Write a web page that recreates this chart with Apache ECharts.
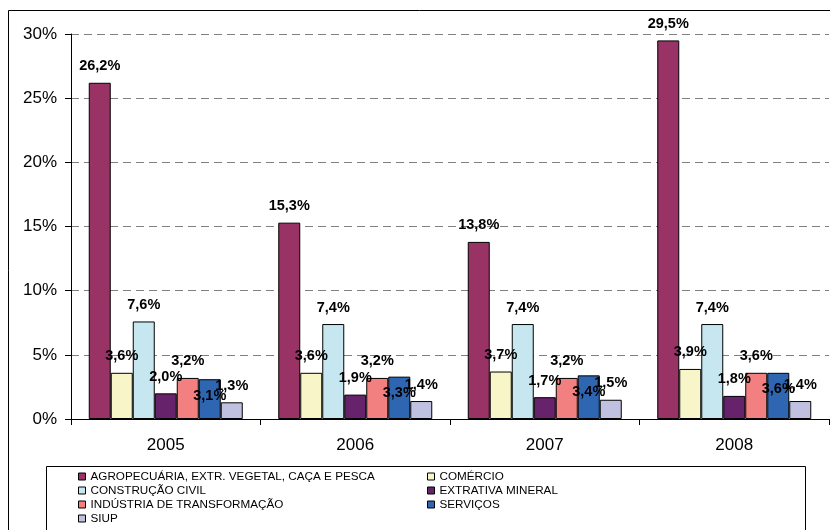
<!DOCTYPE html>
<html>
<head>
<meta charset="utf-8">
<script src="https://cdn.jsdelivr.net/npm/echarts@6/dist/echarts.min.js"></script>
<style>
    html, body { margin: 0; padding: 0; background: #fff; }
    #chart { width: 830px; height: 530px; }
</style>
</head>
<body>
<div id="chart"></div>
<script>
// categorias e valores (%)
var years = ['2005', '2006', '2007', '2008'];
var yTicks = [0, 5, 10, 15, 20, 25, 30];

var agro       = [26.2, 15.3, 13.8, 29.5];
var comercio   = [3.6, 3.6, 3.7, 3.9];
var construcao = [7.6, 7.4, 7.4, 7.4];
var extrativa  = [2.0, 1.9, 1.7, 1.8];
var industria  = [3.2, 3.2, 3.2, 3.6];
var servicos   = [3.1, 3.3, 3.4, 3.6];
var siup       = [1.3, 1.4, 1.5, 1.4];

var seriesNames = [
    'AGROPECUÁRIA, EXTR. VEGETAL, CAÇA E PESCA',
    'COMÉRCIO',
    'CONSTRUÇÃO CIVIL',
    'EXTRATIVA MINERAL',
    'INDÚSTRIA DE TRANSFORMAÇÃO',
    'SERVIÇOS',
    'SIUP'
];
var seriesData = [agro, comercio, construcao, extrativa, industria, servicos, siup];
var seriesColor = ['#993366', '#f8f6c8', '#c6e7f0', '#66226a', '#f38080', '#2e66b2', '#c0c0e0'];

var FONT = '"Liberation Sans", Arial, sans-serif';

var fmt = function(v) {
    return v.toFixed(1).replace('.', ',') + '%';
};

var chart = echarts.init(document.getElementById('chart'));

// rótulo de SERVIÇOS fica dentro da barra, os demais acima
var series = seriesNames.map(function(name, i) {
    var inside = name === 'SERVIÇOS';
    return {
        name: name,
        type: 'bar',
        barWidth: 22,
        barGap: '0%',
        data: seriesData[i],
        itemStyle: {
            color: seriesColor[i],
            borderColor: '#000',
            borderWidth: 1
        },
        label: {
            show: true,
            position: inside ? 'insideTop' : 'top',
            distance: 9,
            color: '#000',
            fontFamily: FONT,
            fontSize: 14.5,
            fontWeight: 'bold',
            formatter: function(p) { return fmt(p.value); }
        }
    };
});

var legendCommon = {
    orient: 'vertical',
    top: 470,
    padding: 0,
    itemGap: 1,
    itemWidth: 7,
    itemHeight: 7,
    icon: 'rect',
    selectedMode: false,
    itemStyle: { borderColor: '#000', borderWidth: 1 },
    textStyle: { fontFamily: FONT, fontSize: 11.7, lineHeight: 13, color: '#000' }
};

chart.setOption({
    backgroundColor: '#fff',
    animation: false,
    grid: { left: 71, right: 1, top: 34, bottom: 111 },
    legend: [
        Object.assign({}, legendCommon, {
            left: 78,
            data: [seriesNames[0], seriesNames[2], seriesNames[4], seriesNames[6]]
        }),
        Object.assign({}, legendCommon, {
            left: 427,
            data: [seriesNames[1], seriesNames[3], seriesNames[5]]
        })
    ],
    graphic: [
        {
            type: 'rect', z: -1, silent: true,
            shape: { x: 8.5, y: 10.5, width: 840, height: 540 },
            style: { fill: 'none', stroke: '#000', lineWidth: 1 }
        },
        {
            type: 'rect', z: -1, silent: true,
            shape: { x: 46.5, y: 466.5, width: 759, height: 80 },
            style: { fill: 'none', stroke: '#000', lineWidth: 1 }
        }
    ],
    xAxis: {
        type: 'category',
        data: years,
        axisLine: { lineStyle: { color: '#000', width: 1 } },
        axisTick: { show: true, length: 6, interval: 0, lineStyle: { color: '#000' } },
        axisLabel: { color: '#000', fontFamily: FONT, fontSize: 17, margin: 18 },
        splitLine: { show: false }
    },
    yAxis: {
        type: 'value',
        min: yTicks[0],
        max: yTicks[yTicks.length - 1],
        interval: 5,
        axisLine: { show: true, lineStyle: { color: '#000', width: 1 } },
        axisTick: { show: true, length: 6, lineStyle: { color: '#000' } },
        axisLabel: {
            color: '#000', fontFamily: FONT, fontSize: 17, margin: 14,
            formatter: '{value}%'
        },
        splitLine: {
            show: true,
            lineStyle: { color: '#808080', type: [8, 5], width: 1 }
        }
    },
    series: series
});
</script>
</body>
</html>
